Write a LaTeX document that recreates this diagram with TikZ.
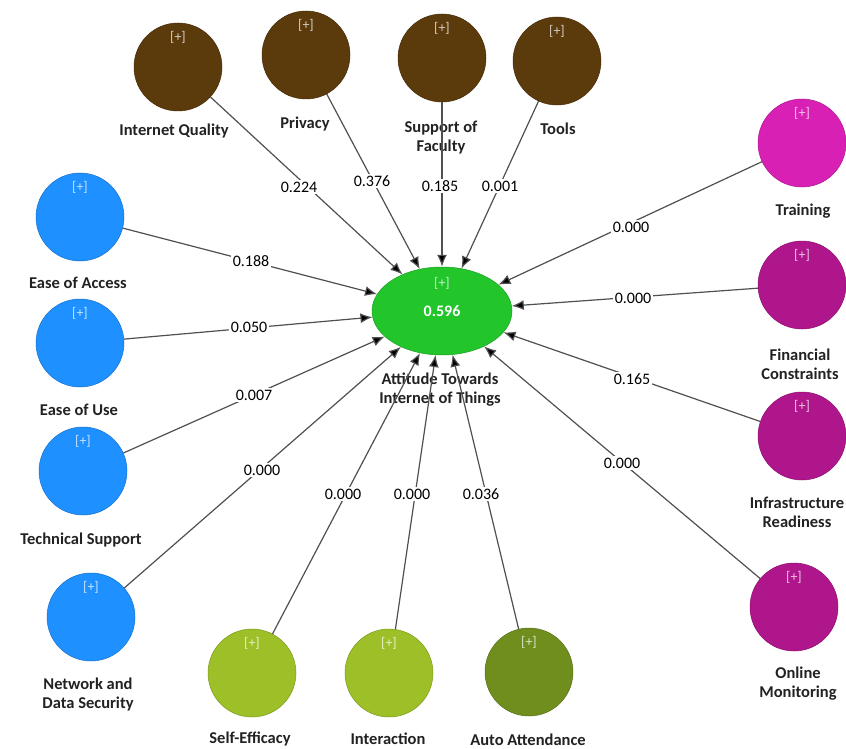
\documentclass[tikz,border=0pt]{standalone}
\usepackage{fontspec}
\setmainfont{Carlito}
\usetikzlibrary{arrows.meta,shapes.geometric}
\definecolor{cbrown}{HTML}{5B3A0B}
\definecolor{cblue}{HTML}{1E90FF}
\definecolor{cmagA}{HTML}{D820B4}
\definecolor{cmagB}{HTML}{B0168C}
\definecolor{cgreen}{HTML}{22C52A}
\definecolor{clime}{HTML}{9DC028}
\definecolor{colive}{HTML}{6F8E1E}
\definecolor{cline}{HTML}{505050}
\definecolor{ctext}{HTML}{222222}
\tikzset{
  lv/.style={circle, fill=#1, draw=#1!80!black, line width=0.5pt, minimum size=88pt, inner sep=0pt,
    label={[anchor=north, yshift=-5pt, text=#1!25!white, font=\fontsize{14}{14}\selectfont]north:{[+]}}},
  lvname/.style={text=ctext, font=\bfseries\fontsize{16.5}{19}\selectfont, align=center, inner sep=1pt},
  num/.style={fill=white, text=black, font=\fontsize{16}{16}\selectfont, inner sep=1.5pt},
  conn/.style={draw=cline, line width=1.2pt, -{Latex[length=12pt,width=10pt,fill=black]}}
}
\begin{document}
\begin{tikzpicture}[x=1pt,y=-1pt]
\useasboundingbox[fill=white] (0,0) rectangle (846,749);
% central construct
\node[ellipse, fill=cgreen, draw=cgreen!80!black, line width=0.5pt, minimum width=140pt, minimum height=88pt, inner sep=0pt,
  label={[anchor=north, yshift=-7pt, text=cgreen!25!white, font=\fontsize{14}{14}\selectfont]north:{[+]}},
  text=white, font=\bfseries\fontsize{16}{16}\selectfont] (att) at (442,311) {0.596};
\node[lvname] (att-l) at (440,390) {Attitude Towards\\Internet of Things};
% top
\node[lv=cbrown] (iq) at (178,67) {};
\node[lv=cbrown] (pr) at (306,55) {};
\node[lv=cbrown] (sf) at (442,58) {};
\node[lv=cbrown] (to) at (557,61) {};
\node[lvname] (iq-l) at (174,131) {Internet Quality};
\node[lvname] (pr-l) at (305,124) {Privacy};
\node[lvname] (sf-l) at (441,138) {Support of\\Faculty};
\node[lvname] (to-l) at (558,129) {Tools};
% right
\node[lv=cmagA] (tr) at (802,143) {};
\node[lv=cmagB] (fc) at (802,285) {};
\node[lv=cmagB] (ir) at (802,436) {};
\node[lv=cmagB] (om) at (794,607) {};
\node[lvname] (tr-l) at (803,211) {Training};
\node[lvname] (fc-l) at (800,364) {Financial\\Constraints};
\node[lvname] (ir-l) at (797,512) {Infrastructure\\Readiness};
\node[lvname] (om-l) at (798,684) {Online\\Monitoring};
% left
\node[lv=cblue] (ea) at (80,217) {};
\node[lv=cblue] (eu) at (80,343) {};
\node[lv=cblue] (ts) at (83,471) {};
\node[lv=cblue] (nd) at (91,617) {};
\node[lvname] (ea-l) at (78,283) {Ease of Access};
\node[lvname] (eu-l) at (79,410) {Ease of Use};
\node[lvname] (ts-l) at (81,540) {Technical Support};
\node[lvname] (nd-l) at (88,695) {Network and\\Data Security};
% bottom
\node[lv=clime] (se) at (252,673) {};
\node[lv=clime] (in) at (389,673) {};
\node[lv=colive] (aa) at (529,672) {};
\node[lvname] (se-l) at (250,739) {Self-Efficacy};
\node[lvname] (in-l) at (388,739) {Interaction};
\node[lvname] (aa-l) at (528,740) {Auto Attendance};
% connectors
\foreach \s in {iq,pr,sf,to,tr,fc,ir,om,ea,eu,ts,nd,se,in,aa}
  \draw[conn] (\s) -- (att);
% path coefficients
\node[num] (c-iq) at (299,187) {0.224};
\node[num] (c-pr) at (372,181) {0.376};
\node[num] (c-sf) at (440,186) {0.185};
\node[num] (c-to) at (500,186) {0.001};
\node[num] (c-tr) at (631,227) {0.000};
\node[num] (c-fc) at (633,298) {0.000};
\node[num] (c-ir) at (632,379) {0.165};
\node[num] (c-om) at (622,463) {0.000};
\node[num] (c-ea) at (251,261) {0.188};
\node[num] (c-eu) at (249,327) {0.050};
\node[num] (c-ts) at (254,395) {0.007};
\node[num] (c-nd) at (262,470) {0.000};
\node[num] (c-se) at (343,494) {0.000};
\node[num] (c-in) at (412,494) {0.000};
\node[num] (c-aa) at (481,494) {0.036};
\end{tikzpicture}
\end{document}
